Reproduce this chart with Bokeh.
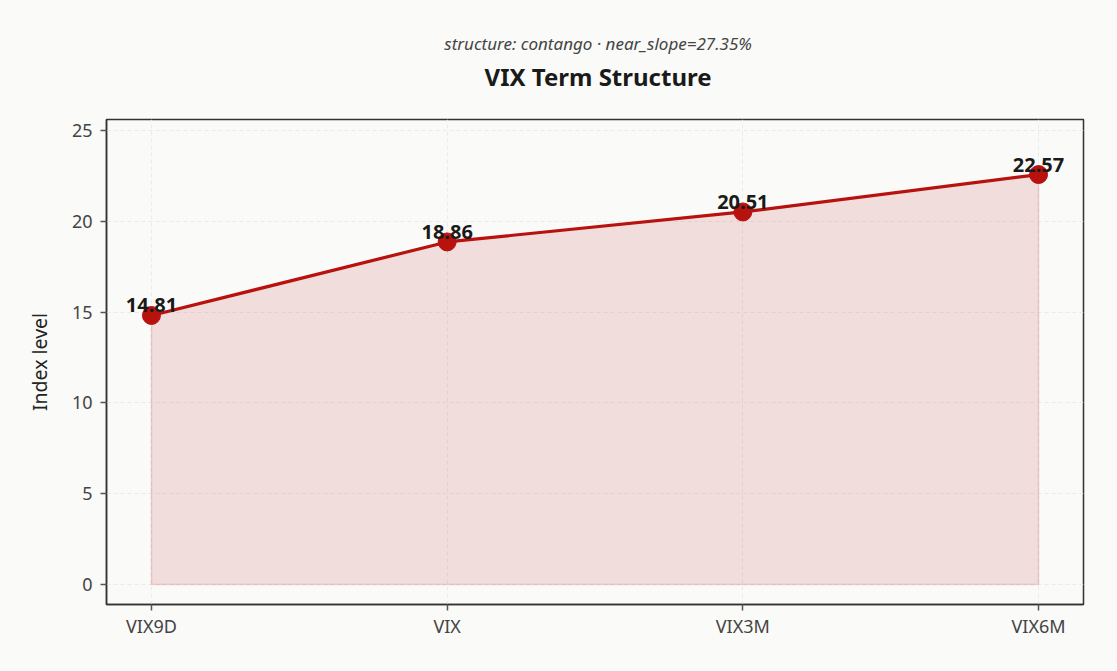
from bokeh.plotting import figure
from bokeh.models import FixedTicker, Range1d, ColumnDataSource, LabelSet
from bokeh.layouts import column
from bokeh.core.properties import value
from bokeh.embed import file_html
from bokeh.resources import INLINE

categories = ["VIX9D", "VIX", "VIX3M", "VIX6M"]
values = [14.81, 18.86, 20.51, 22.57]
y_ticks = [0, 5, 10, 15, 20, 25]
title_text = "VIX Term Structure"
subtitle_text = "structure: contango \u00b7 near_slope=27.35%"

FONT = "Noto Sans"
BG = "#fafaf8"
RED = "#b8120f"
W, H = 1117, 671
HEAD_H = 115

xs = list(range(len(categories)))
src = ColumnDataSource(dict(x=xs, y=values, base=[0] * len(xs),
                            label=[f"{v:.2f}" for v in values]))

# ---- header (title + subtitle), pixel-like coordinates, y down ----
head = figure(width=W, height=HEAD_H, output_backend="svg", toolbar_location=None,
              x_range=Range1d(0, W), y_range=Range1d(HEAD_H, 0),
              x_axis_location=None, y_axis_location=None,
              min_border=0, min_border_left=0, min_border_right=0,
              min_border_top=0, min_border_bottom=0)
head.grid.visible = False
head.outline_line_color = None
head.background_fill_color = BG
head.border_fill_color = BG
cx = 562
head.text(x=[cx], y=[43], text=[subtitle_text], text_align="center",
          text_baseline="middle", text_font=value(FONT), text_font_size="17px",
          text_font_style="italic", text_color="#444444")
head.text(x=[cx], y=[76], text=[title_text], text_align="center",
          text_baseline="middle", text_font=value(FONT), text_font_size="24px",
          text_font_style="bold", text_color="#1a1a1a")

# ---- main chart ----
p = figure(width=W, height=H - HEAD_H, output_backend="svg", toolbar_location=None,
           x_range=Range1d(-0.152, 3.152), y_range=Range1d(-1.1, 25.6),
           min_border_left=106, min_border_right=34, min_border_top=4,
           min_border_bottom=67)
p.background_fill_color = BG
p.border_fill_color = BG
p.outline_line_color = "#333333"
p.outline_line_width = 1.5

# fill area
p.varea(x="x", y1="base", y2="y", source=src, fill_color=RED, fill_alpha=0.12)
px = xs + xs[::-1]
py = values + [0] * len(xs)
p.patch(px, py, fill_alpha=0, line_color=RED, line_alpha=0.15, line_width=1.5)
p.line("x", "y", source=src, line_color=RED, line_width=3.2)
p.scatter("x", "y", source=src, size=18, fill_color=RED, line_color=RED)

labels = LabelSet(x="x", y="y", text="label", source=src, text_align="center",
                  text_baseline="bottom", y_offset=3, text_font=value(FONT),
                  text_font_size=value("20px"), text_font_style="bold",
                  text_color="#1a1a1a")
p.add_layout(labels)

# axes
p.xaxis.ticker = FixedTicker(ticks=xs)
p.xaxis.major_label_overrides = {i: c for i, c in enumerate(categories)}
p.yaxis.ticker = FixedTicker(ticks=y_ticks)
p.yaxis.axis_label = "Index level"
for ax in (p.xaxis, p.yaxis):
    ax.axis_line_color = "#333333"
    ax.axis_line_width = 1.5
    ax.major_tick_line_color = "#555555"
    ax.major_tick_line_width = 1.5
    ax.major_tick_out = 6
    ax.major_tick_in = 0
    ax.minor_tick_line_color = None
    ax.major_label_text_font = FONT
    ax.major_label_text_font_size = "18px"
    ax.major_label_text_color = "#444444"
    ax.axis_label_text_font = FONT
    ax.axis_label_text_font_size = "19.5px"
    ax.axis_label_text_font_style = "normal"
    ax.axis_label_text_color = "#222222"
p.xaxis.major_label_standoff = 3
p.yaxis.major_label_standoff = 8
p.yaxis.axis_label_standoff = 16

p.xgrid.ticker = FixedTicker(ticks=xs)
for g in (p.xgrid, p.ygrid):
    g.grid_line_color = "#ebebeb"
    g.grid_line_dash = "4 3"
    g.grid_line_width = 1

layout = column(head, p, spacing=0)
layout.styles = {"background-color": BG}
open("out.html", "w").write(file_html(layout, INLINE))
